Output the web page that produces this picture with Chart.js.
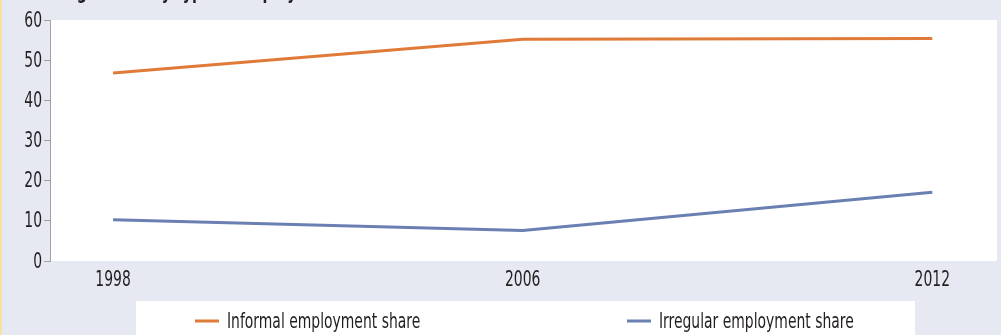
<!DOCTYPE html>
<html>
<head>
<meta charset="utf-8">
<script src="https://cdn.jsdelivr.net/npm/chart.js@4/dist/chart.umd.min.js"></script>
<style>
  html, body { margin: 0; padding: 0; background: #e6e9f2; }
  #wrap { width: 1001px; height: 335px; position: relative; }
</style>
</head>
<body>
<div id="wrap"><canvas id="myChart" width="1001" height="335"></canvas></div>
<script>
let years = ['1998', '2006', '2012'];
let informal_share = [46.8, 55.2, 55.4];
let irregular_share = [10.3, 7.6, 17.1];
let y_ticks = [0, 10, 20, 30, 40, 50, 60];
let series_names = ['Informal employment share', 'Irregular employment share'];
let title_text = 'Percentage share by type of employment';

const FONT = '"DejaVu Sans Condensed", "DejaVu Sans", sans-serif';
const SX = 0.72;   // squeeze text to look like a condensed face
const TXT = '#231f20';
const ORANGE = '#e07a38';
const BLUE = '#6a7fb2';

function narrowText(c, text, x, y, align, font, base) {
      c.save();
      c.font = font;
      c.fillStyle = TXT;
      c.textAlign = align;
      c.textBaseline = base || 'middle';
      c.translate(x, y);
      c.scale(SX, 1);
      c.fillText(text, 0, 0);
      c.restore();
}

// white plot box, yellow strip, cut-off title, labels and legend
const decor = {
      id: 'decor',
      beforeDraw(chart) {
            const c = chart.ctx, a = chart.chartArea;
            c.save();
            c.fillStyle = '#e6e9f2';
            c.fillRect(0, 0, chart.width, chart.height);
            c.fillStyle = '#f6e2a6';
            c.fillRect(0, 0, 2, chart.height);
            c.fillStyle = '#ffffff';
            c.fillRect(a.left, a.top, a.right - a.left, a.bottom - a.top);
            c.restore();
            narrowText(c, title_text, 5, -1, 'left', 'bold 22px ' + FONT, 'alphabetic');
      },
      afterDraw(chart) {
            const c = chart.ctx;
            const xs = chart.scales.x, ys = chart.scales.y;
            ys.ticks.forEach(t => {
                  narrowText(c, String(t.value), 42, ys.getPixelForValue(t.value) + 1, 'right', '21.5px ' + FONT);
            });
            xs.ticks.forEach(t => {
                  narrowText(c, years[t.value], xs.getPixelForValue(t.value), 280, 'center', '21.5px ' + FONT);
            });
            c.save();
            c.fillStyle = '#ffffff';
            c.fillRect(136, 301, 779, 40);
            c.restore();
            const lx = [195, 627];
            chart.data.datasets.forEach((ds, i) => {
                  c.save();
                  c.strokeStyle = ds.borderColor;
                  c.lineWidth = 3;
                  c.beginPath();
                  c.moveTo(lx[i], 321);
                  c.lineTo(lx[i] + 24, 321);
                  c.stroke();
                  c.restore();
                  narrowText(c, ds.label, lx[i] + 32, 322, 'left', '21.5px ' + FONT);
            });
      }
};

let ctx = document.getElementById('myChart').getContext('2d');
let myChart = new Chart(ctx, {
      type: 'line',
      data: {
            datasets: [{
                  label: series_names[0],
                  data: informal_share.map((v, i) => ({x: i, y: v})),
                  borderColor: ORANGE,
                  borderWidth: 3,
                  pointRadius: 0,
                  tension: 0
            }, {
                  label: series_names[1],
                  data: irregular_share.map((v, i) => ({x: i, y: v})),
                  borderColor: BLUE,
                  borderWidth: 3,
                  pointRadius: 0,
                  tension: 0
            }]
      },
      options: {
            responsive: false,
            animation: false,
            layout: { padding: { top: 20, right: 4, left: 0, bottom: 0 } },
            plugins: { legend: { display: false }, tooltip: { enabled: false } },
            scales: {
                  x: {
                        type: 'linear',
                        min: -0.154,
                        max: 2.158,
                        afterBuildTicks: (s) => { s.ticks = years.map((y, i) => ({value: i})); },
                        afterFit: (s) => { s.height = 74; },
                        grid: { display: false },
                        border: { display: false },
                        ticks: { display: false }
                  },
                  y: {
                        min: 0,
                        max: 60,
                        afterBuildTicks: (s) => { s.ticks = y_ticks.map(v => ({value: v})); },
                        afterFit: (s) => { s.width = 50; },
                        grid: { drawOnChartArea: false, color: '#a3a3a3', tickLength: 6 },
                        border: { color: '#a3a3a3', width: 1 },
                        ticks: { display: false }
                  }
            }
      },
      plugins: [decor]
});
</script>
</body>
</html>
